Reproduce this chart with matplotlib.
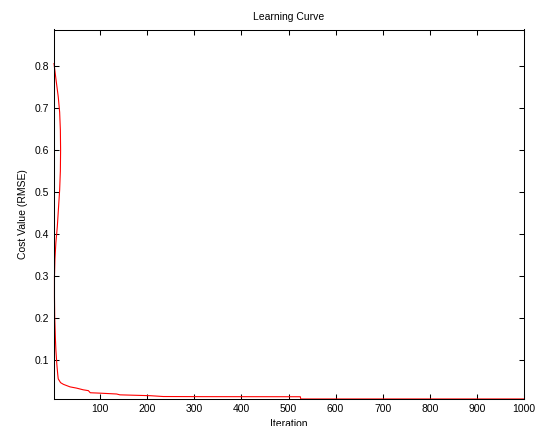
import matplotlib
matplotlib.use('Agg')
import matplotlib.pyplot as plt

# values
iteration = [2, 6, 11, 14, 15.5, 16, 15.5, 14, 12, 9, 6, 4, 3, 3, 3.5, 5, 6, 8, 10, 11,
             16, 22, 36, 50, 64, 75, 79, 100, 135, 142, 206, 234, 318, 525, 526, 1000]
cost = [0.806, 0.77, 0.727, 0.69, 0.648, 0.60, 0.55, 0.505, 0.47, 0.417, 0.38, 0.34,
        0.298, 0.25, 0.203, 0.15, 0.124, 0.09, 0.065, 0.055, 0.046, 0.042, 0.036, 0.033,
        0.029, 0.027, 0.022, 0.021, 0.019, 0.017, 0.015, 0.013, 0.0127, 0.0125, 0.0072, 0.0072]

xticks = [100, 200, 300, 400, 500, 600, 700, 800, 900, 1000]
yticks = [0.1, 0.2, 0.3, 0.4, 0.5, 0.6, 0.7, 0.8]

plt.rcParams['font.family'] = ['Liberation Sans', 'DejaVu Sans']

fig = plt.figure(figsize=(5.38, 4.26), dpi=100)
ax = fig.add_axes([54 / 538, 1 - 399 / 426, 470 / 538, 369.5 / 426])

ax.plot(iteration, cost, color='red', linewidth=0.8, clip_on=False)

ax.set_xlim(2, 1000)
ax.set_ylim(0.0071, 0.887)
ax.set_xticks(xticks)
ax.set_yticks(yticks)
ax.set_yticklabels(['%g' % v for v in yticks])
ax.tick_params(direction='in', top=True, right=True, length=3.6, width=0.75,
               labelsize=7.5, pad=3.5)
for s in ax.spines.values():
    s.set_linewidth(0.75)

ax.set_title('Learning Curve', fontsize=7.5, pad=7)
ax.set_xlabel('Iteration', fontsize=7.5, labelpad=4)
ax.set_ylabel('Cost Value (RMSE)', fontsize=7.5, labelpad=5)

fig.savefig('out.png', dpi=100)
